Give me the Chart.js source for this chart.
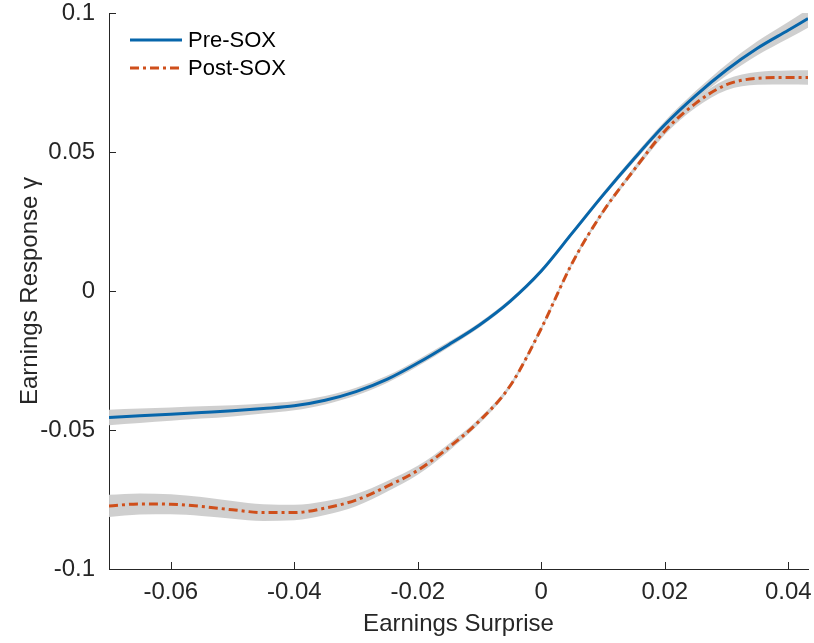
<!DOCTYPE html>
<html>
<head>
<meta charset="utf-8">
<script src="https://cdn.jsdelivr.net/npm/chart.js@4"></script>
<style>
  html, body { margin: 0; padding: 0; background: #fff; }
  #wrap { width: 814px; height: 643px; }
</style>
</head>
<body>
<div id="wrap"><canvas id="chart" width="814" height="643"></canvas></div>
<script>
// earnings surprise grid
const surprise = [-0.07, -0.065, -0.06, -0.055, -0.05, -0.045, -0.04, -0.035, -0.03, -0.025, -0.02, -0.015,
  -0.01, -0.005, 0, 0.005, 0.01, 0.015, 0.02, 0.025, 0.03, 0.035, 0.04, 0.0432];
const preSox = [-0.0455, -0.0449, -0.0443, -0.0437, -0.0431, -0.0423, -0.0413, -0.0393, -0.0362, -0.0318, -0.0259, -0.0193,
  -0.0122, -0.0036, 0.0072, 0.0208, 0.0345, 0.0475, 0.0598, 0.0703, 0.0795, 0.0873, 0.0938, 0.098];
const postSox = [-0.0773, -0.0766, -0.0767, -0.0775, -0.0787, -0.0797, -0.0797, -0.0781, -0.0752, -0.0703, -0.0645, -0.0563,
  -0.0467, -0.034, -0.0135, 0.01, 0.0285, 0.0435, 0.0575, 0.0675, 0.0742, 0.0765, 0.0768, 0.0768];
// half width of the confidence bands
const preBand = [0.0028, 0.0026, 0.0024, 0.0022, 0.002, 0.0018, 0.0016, 0.0015, 0.0014, 0.0013, 0.0012, 0.001,
  0.0009, 0.0008, 0.0008, 0.0008, 0.0009, 0.0011, 0.0013, 0.0016, 0.002, 0.0025, 0.003, 0.0033];
const postBand = [0.004, 0.0038, 0.0036, 0.0034, 0.0032, 0.003, 0.0028, 0.0025, 0.0022, 0.0019, 0.0016, 0.0013,
  0.001, 0.0008, 0.0007, 0.0007, 0.0008, 0.001, 0.0013, 0.0016, 0.002, 0.0023, 0.0025, 0.0026];
const xTicks = [-0.06, -0.04, -0.02, 0, 0.02, 0.04];
const yTicks = [-0.1, -0.05, 0, 0.05, 0.1];

const blue = "#0766ab";
const orange = "#cf4f1b";
const band = "rgba(204,204,204,0.95)";
const txt = "#262626";
const fam = "'Liberation Sans', Arial, sans-serif";

const pts = (ys, off, sign) => surprise.map((x, i) => ({ x: x, y: ys[i] + (off ? sign * off[i] : 0) }));

function bandSets(ys, off) {
  return [
    { data: pts(ys, off, 1), borderWidth: 0, pointRadius: 0, backgroundColor: band, fill: "+1", order: 3, cubicInterpolationMode: "monotone" },
    { data: pts(ys, off, -1), borderWidth: 0, pointRadius: 0, backgroundColor: band, fill: false, order: 3, cubicInterpolationMode: "monotone" }
  ];
}

// matlab style: ticks inside the axes, legend box inside top left
const extras = {
  id: "extras",
  afterDatasetsDraw(chart) {
    const c = chart.ctx, a = chart.chartArea;
    const xs = chart.scales.x, ys = chart.scales.y;
    c.save();
    c.strokeStyle = txt;
    c.lineWidth = 1;
    c.beginPath();
    xTicks.forEach(v => {
      const p = Math.round(xs.getPixelForValue(v)) + 0.5;
      c.moveTo(p, a.bottom); c.lineTo(p, a.bottom - 7);
    });
    yTicks.forEach(v => {
      const p = Math.round(ys.getPixelForValue(v)) + 0.5;
      c.moveTo(a.left, p); c.lineTo(a.left + 7, p);
    });
    c.stroke();
    const items = [["Pre-SOX", blue, []], ["Post-SOX", orange, [9, 4, 3, 4]]];
    c.font = "22px " + fam;
    c.textBaseline = "middle";
    items.forEach((it, i) => {
      const y = 40 + i * 28;
      c.strokeStyle = it[1];
      c.lineWidth = 3;
      c.setLineDash(it[2]);
      c.beginPath(); c.moveTo(130, y); c.lineTo(182, y); c.stroke();
      c.setLineDash([]);
      c.fillStyle = "#000";
      c.fillText(it[0], 188, y + 1);
    });
    c.restore();
  }
};

const fmt = v => String(+v.toFixed(3));

new Chart(document.getElementById("chart"), {
  type: "line",
  data: {
    datasets: [
      ...bandSets(preSox, preBand),
      ...bandSets(postSox, postBand),
      { label: "Pre-SOX", data: pts(preSox), borderColor: blue, borderWidth: 3, pointRadius: 0, fill: false, order: 1, cubicInterpolationMode: "monotone" },
      { label: "Post-SOX", data: pts(postSox), borderColor: orange, borderWidth: 3, borderDash: [9, 4, 3, 4], pointRadius: 0, fill: false, order: 1, cubicInterpolationMode: "monotone" }
    ]
  },
  plugins: [extras],
  options: {
    responsive: false,
    animation: false,
    layout: { padding: { top: 13, right: 6, left: 0, bottom: 0 } },
    plugins: { legend: { display: false }, tooltip: { enabled: false } },
    scales: {
      x: {
        type: "linear",
        min: -0.07,
        max: 0.0432,
        afterBuildTicks: s => { s.ticks = xTicks.map(v => ({ value: v })); },
        grid: { display: false },
        border: { display: true, color: txt, width: 1 },
        ticks: { color: txt, font: { size: 24, family: fam }, padding: 1, maxRotation: 0, callback: fmt },
        title: { display: true, text: "Earnings Surprise", color: txt, font: { size: 24, family: fam }, padding: { top: 0 } },
        afterFit: s => { s.height = 74; s.paddingLeft = 0; s.paddingRight = 0; }
      },
      y: {
        min: -0.1,
        max: 0.1,
        afterBuildTicks: s => { s.ticks = yTicks.map(v => ({ value: v })); },
        grid: { display: false },
        border: { display: true, color: txt, width: 1 },
        ticks: { color: txt, font: { size: 24, family: fam }, padding: 6, callback: fmt },
        title: { display: true, text: "Earnings Response γ", color: txt, font: { size: 24, family: fam }, padding: { top: 16, bottom: 0 } },
        afterFit: s => { s.width = 109; s.paddingTop = 0; s.paddingBottom = 0; }
      }
    }
  }
});
</script>
</body>
</html>
